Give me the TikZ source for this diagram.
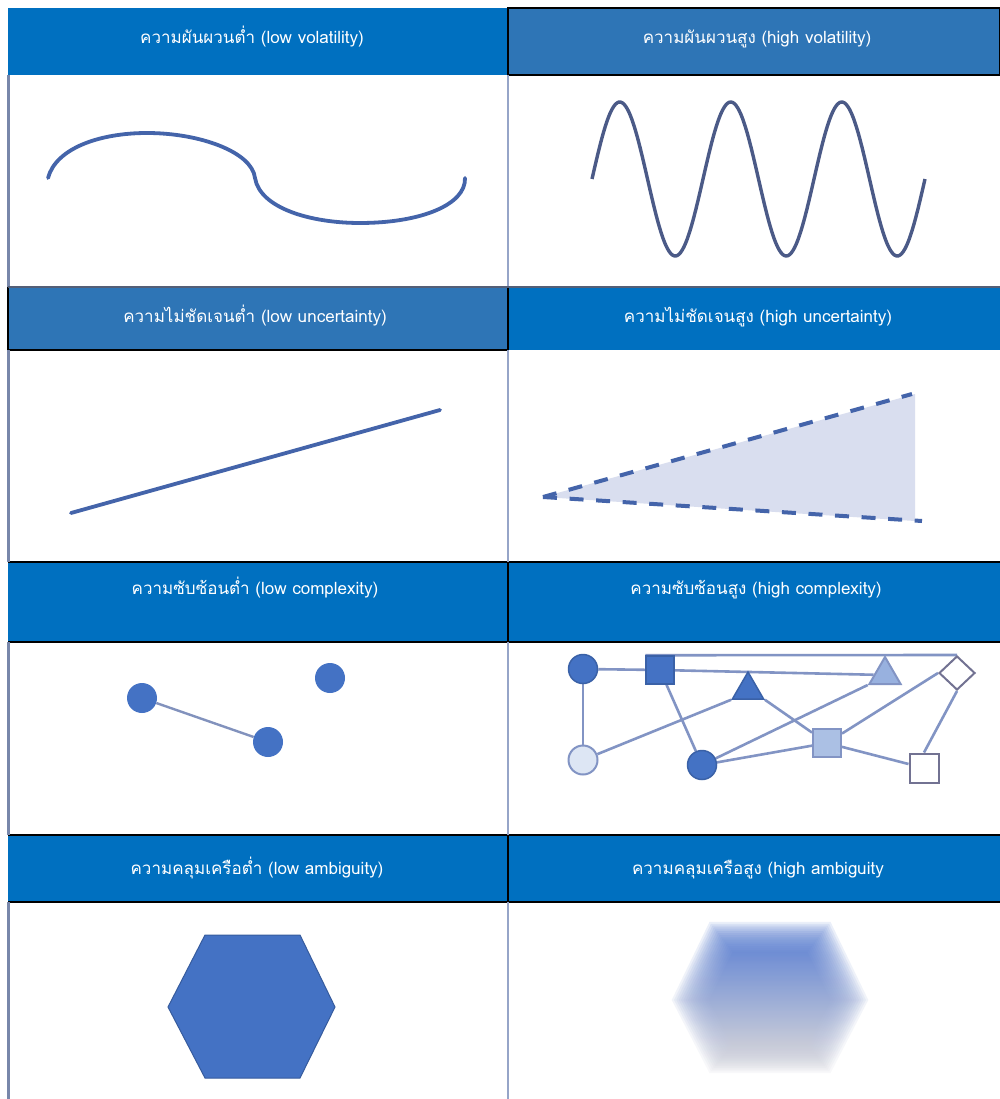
\documentclass[tikz,border=0pt]{standalone}
\usepackage{fontspec}
\newfontfamily\thaifont[Script=Thai]{Loma}
\usetikzlibrary{shapes.geometric,backgrounds}
\definecolor{hdrA}{RGB}{0,112,192}
\definecolor{hdrB}{RGB}{46,117,182}
\definecolor{curvec}{RGB}{68,100,170}
\definecolor{wavec}{RGB}{75,90,135}
\definecolor{nodec}{RGB}{68,114,196}
\definecolor{edgec}{RGB}{130,148,196}
\definecolor{borderc}{RGB}{120,135,170}
\definecolor{divc}{RGB}{150,165,200}
\definecolor{conefill}{RGB}{217,222,239}
\tikzset{
  hdrtext/.style={text=white, font=\thaifont\fontsize{17}{19}\selectfont, inner sep=0pt, anchor=base},
  hdrline/.style={draw=black, line width=1.6pt},
  gnode/.style={draw=nodec!85!black, fill=nodec, line width=1.5pt, inner sep=0pt},
  lnode/.style={draw=edgec, fill=nodec!25, line width=2pt, inner sep=0pt},
  wnode/.style={draw=gray!70!blue!60!black!70, fill=white, line width=2pt, inner sep=0pt},
  gedge/.style={draw=edgec, line width=2.6pt},
  conedash/.style={draw=curvec, line width=4pt, dash pattern=on 14pt off 12.6pt},
}
\begin{document}
\begin{tikzpicture}[x=1pt,y=-1pt]
\useasboundingbox (0,0) rectangle (1000,1099);
\begin{scope}[on background layer]
  \fill[white] (0,0) rectangle (1000,1099);
\end{scope}

% ---------- headers ----------
\fill[hdrA] (8,8) rectangle (508,75);
\fill[hdrB] (508,8) rectangle (1000,75);
\draw[hdrline] (508,8) rectangle (1000,75);

\fill[hdrB] (8,287) rectangle (508,350);
\fill[hdrA] (508,287) rectangle (1000,350);
\draw[hdrline] (8,287) rectangle (508,350);
\draw[hdrline] (508,287) -- (1000,287);

\fill[hdrA] (8,562) rectangle (1000,642);
\draw[hdrline] (8,562) -- (1000,562) (508,562) -- (508,642) (8,642) -- (1000,642);

\fill[hdrA] (8,835) rectangle (1000,902);
\draw[hdrline] (8,835) -- (1000,835) (508,835) -- (508,902) (8,902) -- (1000,902);

% ---------- body borders ----------
\draw[borderc, line width=3pt] (8,75) -- (8,287) (8,350) -- (8,562) (8,642) -- (8,835) (8,902) -- (8,1099);
\draw[divc, line width=2pt] (508,75) -- (508,287) (508,350) -- (508,562) (508,642) -- (508,835) (508,902) -- (508,1099);
\draw[borderc!70!black, line width=1.5pt] (8,287) -- (1000,287);

% ---------- header texts ----------
\node[hdrtext] (t1) at (252,44) {ความผันผวนต่ำ (low volatility)};
\node[hdrtext] (t2) at (757,44) {ความผันผวนสูง (high volatility)};
\node[hdrtext] (t3) at (255,322) {ความไม่ชัดเจนต่ำ (low uncertainty)};
\node[hdrtext] (t4) at (758,322) {ความไม่ชัดเจนสูง (high uncertainty)};
\node[hdrtext] (t5) at (255,594) {ความซับซ้อนต่ำ (low complexity)};
\node[hdrtext] (t6) at (756,594) {ความซับซ้อนสูง (high complexity)};
\node[hdrtext] (t7) at (257,874) {ความคลุมเครือต่ำ (low ambiguity)};
\node[hdrtext] (t8) at (758,874) {ความคลุมเครือสูง (high ambiguity};

% ---------- low volatility ----------
\draw[curvec, line width=3.8pt, line cap=round]
  (48,178) .. controls (56,148) and (100,133) .. (147,133)
  .. controls (200,133) and (252,152) .. (255,178)
  .. controls (260,208) and (310,223) .. (360,223)
  .. controls (420,223) and (466,205) .. (465,178);

% ---------- high volatility ----------
\draw[wavec, line width=3.4pt, smooth, samples=200, domain=592:925]
  plot (\x, {179 - 77*sin((\x-592)/111*360)});

% ---------- low uncertainty ----------
\draw[curvec, line width=3.8pt, line cap=round] (71,513) -- (440,410);

% ---------- high uncertainty ----------
\fill[conefill] (543,497) -- (915,394) -- (915,521) -- cycle;
\draw[conedash] (543,497) -- (912,394);
\draw[conedash] (543,497) -- (922,521);

% ---------- low complexity ----------
\node[circle, fill=nodec, minimum size=30pt, inner sep=0pt] (c1) at (142,698) {};
\node[circle, fill=nodec, minimum size=30pt, inner sep=0pt] (c2) at (268,742) {};
\node[circle, fill=nodec, minimum size=30pt, inner sep=0pt] (c3) at (330,678) {};
\begin{scope}[on background layer]
  \draw[edgec!90!gray, line width=2.4pt] (c1) -- (c2);
\end{scope}

% ---------- high complexity ----------
\node[gnode, circle, minimum size=29pt] (A) at (583,669) {};
\node[gnode, rectangle, minimum size=28pt] (B) at (660,670) {};
\node[gnode, regular polygon, regular polygon sides=3, minimum size=36pt] (C) at (748,690) {};
\node[lnode, regular polygon, regular polygon sides=3, minimum size=36pt, fill=nodec!55] (D) at (885,675) {};
\node[wnode, diamond, minimum width=36pt, minimum height=34pt] (E) at (957,673) {};
\node[lnode, circle, minimum size=29pt, fill=nodec!18] (F) at (583,760) {};
\node[gnode, circle, minimum size=29pt] (G) at (702,765) {};
\node[lnode, rectangle, minimum size=28pt, fill=nodec!45] (H) at (827,743) {};
\node[wnode, rectangle, minimum size=29pt] (I) at (924,768) {};
\begin{scope}[on background layer]
  \draw[gedge] (A) -- (B);
  \draw[gedge] (B.north west) -- (E.north);
  \draw[gedge] (B) -- (D);
  \draw[gedge] (A) -- (F);
  \draw[gedge] (F) -- (C.corner 2);
  \draw[gedge] (B) -- (G);
  \draw[gedge] (C.corner 3) -- (H);
  \draw[gedge] (G) -- (D.corner 2);
  \draw[gedge] (G) -- (H);
  \draw[gedge] (H) -- (E.west);
  \draw[gedge] (H) -- (I);
  \draw[gedge] (E.south) -- (I.north);
\end{scope}

% ---------- low ambiguity ----------
\fill[nodec, draw=nodec!80!black, line width=1pt]
  (168,1007) -- (205,935) -- (300,935) -- (335,1007) -- (300,1078) -- (205,1078) -- cycle;

% ---------- high ambiguity (blurred) ----------
\foreach \s in {1.26,1.23,1.20,1.17,1.14,1.11,1.08,1.05,1.02,0.99,0.96,0.93,0.90,0.87,0.84,0.81,0.78} {
  \begin{scope}[shift={(770,1000)}, scale=\s]
    \shade[top color={rgb,255:red,88;green,125;blue,210}, bottom color={rgb,255:red,205;green,206;blue,216},
           opacity=0.12]
      (-78,0) -- (-48,-62) -- (48,-62) -- (78,0) -- (48,58) -- (-48,58) -- cycle;
  \end{scope}
}
\end{tikzpicture}
\end{document}
